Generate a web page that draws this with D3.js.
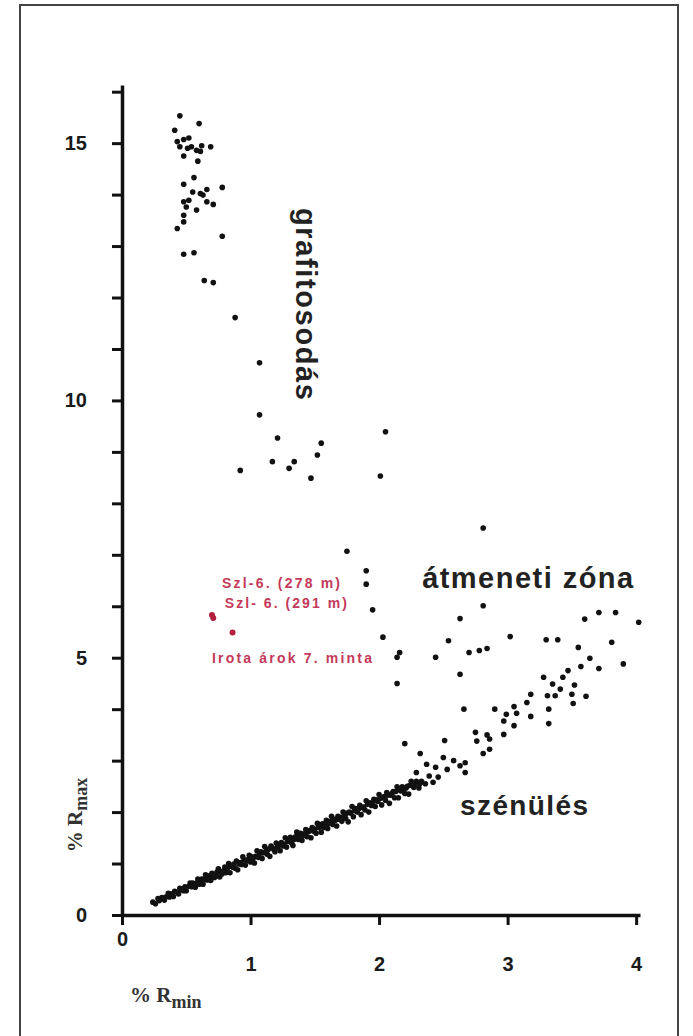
<!DOCTYPE html>
<html>
<head>
<meta charset="utf-8">
<script src="https://cdn.jsdelivr.net/npm/d3@7"></script>
<style>
  body { margin: 0; background: #fff; }
  svg { display: block; }
</style>
</head>
<body>
<div id="chart"></div>
<script>
// Tick values
const xTickValues = [0, 1, 2, 3, 4];
const yTickValues = [0, 1, 2, 3, 4, 5, 6, 7, 8, 9, 10, 11, 12, 13, 14, 15, 16];
const yTickLabels = [0, 5, 10, 15];

// Graphitization cluster (% Rmin, % Rmax)
const graphitePoints = [
  [0.45, 15.53], [0.60, 15.38], [0.41, 15.25], [0.43, 15.03], [0.48, 15.07],
  [0.45, 14.93], [0.54, 14.93], [0.58, 14.86], [0.61, 14.84], [0.69, 14.93],
  [0.48, 14.75], [0.51, 14.90], [0.59, 14.65], [0.56, 14.33], [0.48, 14.20],
  [0.78, 14.14], [0.55, 14.05], [0.61, 14.02], [0.63, 13.99], [0.52, 13.89],
  [0.48, 13.86], [0.66, 13.86], [0.71, 13.81], [0.50, 13.76], [0.58, 13.70],
  [0.48, 13.60], [0.48, 13.47], [0.43, 13.34], [0.78, 13.19], [0.48, 12.84],
  [0.56, 12.87], [0.64, 12.33], [0.71, 12.29], [0.88, 11.61], [1.07, 10.73],
  [1.07, 9.72], [1.21, 9.27], [1.55, 9.17], [1.52, 8.94], [1.17, 8.81],
  [1.34, 8.81], [1.30, 8.68], [0.92, 8.64], [1.47, 8.49], [2.05, 9.39],
  [2.01, 8.53], [0.62, 14.95], [0.52, 15.10], [0.66, 14.10]
];

// Transition zone and upper coalification points
const transitionPoints = [
  [2.81, 7.52], [1.75, 7.07], [1.90, 6.69], [1.90, 6.43], [1.95, 5.93],
  [2.03, 5.40], [2.16, 5.10], [2.14, 5.01], [2.81, 6.01], [2.63, 5.76],
  [3.60, 5.75], [3.71, 5.88], [3.84, 5.88], [4.02, 5.69], [2.54, 5.33],
  [3.02, 5.41], [3.30, 5.35], [3.39, 5.35], [3.55, 5.20], [3.81, 5.30],
  [2.44, 5.01], [2.70, 5.10], [2.78, 5.14], [2.84, 5.18], [3.64, 4.99],
  [3.57, 4.83], [3.71, 4.79], [3.90, 4.88], [2.14, 4.50], [2.63, 4.68],
  [3.47, 4.75], [3.28, 4.62], [3.43, 4.62], [3.35, 4.49], [3.52, 4.47],
  [3.41, 4.39], [3.18, 4.29], [3.31, 4.26], [3.37, 4.26], [3.50, 4.29],
  [3.61, 4.25], [3.51, 4.11], [3.15, 4.13], [2.66, 4.00], [2.90, 4.00],
  [3.05, 4.05], [2.99, 3.90], [3.07, 3.92], [3.32, 4.00], [2.97, 3.77],
  [3.18, 3.86], [3.05, 3.68], [3.32, 3.72], [2.75, 3.55], [2.84, 3.50],
  [2.97, 3.51], [2.76, 3.38], [2.86, 3.42], [2.81, 3.14], [2.86, 3.22],
  [2.20, 3.33], [2.51, 3.39], [2.32, 3.14], [2.50, 3.06], [2.58, 3.00],
  [2.67, 2.96], [2.37, 2.93], [2.44, 2.87], [2.53, 2.83], [2.63, 2.90],
  [2.67, 2.77], [2.29, 2.77]
];

// Main coalification band
const coalPoints = [
  [0.24, 0.25], [0.26, 0.22], [0.28, 0.32], [0.29, 0.28], [0.31, 0.34],
  [0.33, 0.29], [0.34, 0.35], [0.36, 0.42], [0.37, 0.35], [0.38, 0.41],
  [0.40, 0.36], [0.41, 0.46], [0.43, 0.44], [0.44, 0.41], [0.45, 0.52],
  [0.46, 0.49], [0.48, 0.47], [0.49, 0.55], [0.50, 0.47], [0.52, 0.56],
  [0.53, 0.62], [0.54, 0.55], [0.55, 0.62], [0.57, 0.54], [0.58, 0.62],
  [0.59, 0.70], [0.60, 0.60], [0.62, 0.70], [0.63, 0.60], [0.64, 0.70],
  [0.65, 0.78], [0.66, 0.68], [0.68, 0.76], [0.69, 0.67], [0.70, 0.81],
  [0.71, 0.76], [0.72, 0.73], [0.74, 0.84], [0.75, 0.90], [0.76, 0.74],
  [0.77, 0.84], [0.78, 0.80], [0.80, 0.93], [0.81, 0.82], [0.82, 0.91],
  [0.83, 1.00], [0.84, 0.82], [0.86, 0.93], [0.87, 0.99], [0.88, 0.91],
  [0.89, 1.05], [0.90, 0.88], [0.92, 1.02], [0.93, 0.98], [0.94, 1.13],
  [0.95, 1.07], [0.96, 0.97], [0.98, 1.08], [0.99, 1.16], [1.00, 1.03],
  [1.01, 1.13], [1.03, 1.01], [1.04, 1.14], [1.05, 1.25], [1.06, 1.12],
  [1.08, 1.23], [1.09, 1.10], [1.10, 1.21], [1.11, 1.33], [1.13, 1.18],
  [1.14, 1.28], [1.15, 1.14], [1.16, 1.34], [1.18, 1.28], [1.19, 1.23],
  [1.20, 1.40], [1.22, 1.36], [1.23, 1.25], [1.24, 1.41], [1.25, 1.34],
  [1.27, 1.50], [1.28, 1.32], [1.29, 1.43], [1.31, 1.51], [1.32, 1.40],
  [1.33, 1.35], [1.35, 1.52], [1.36, 1.61], [1.37, 1.47], [1.39, 1.59],
  [1.40, 1.45], [1.41, 1.55], [1.43, 1.66], [1.44, 1.52], [1.45, 1.62],
  [1.47, 1.50], [1.48, 1.70], [1.49, 1.63], [1.51, 1.59], [1.52, 1.78],
  [1.53, 1.70], [1.55, 1.61], [1.56, 1.77], [1.57, 1.70], [1.59, 1.84],
  [1.60, 1.68], [1.61, 1.78], [1.63, 1.92], [1.64, 1.76], [1.65, 1.86],
  [1.67, 1.73], [1.68, 1.92], [1.69, 1.86], [1.71, 1.82], [1.72, 2.00],
  [1.74, 1.88], [1.75, 1.98], [1.76, 1.81], [1.78, 1.98], [1.79, 2.11],
  [1.80, 1.91], [1.82, 2.07], [1.83, 2.00], [1.85, 2.13], [1.86, 1.95],
  [1.87, 2.09], [1.89, 2.04], [1.90, 2.22], [1.92, 2.00], [1.93, 2.18],
  [1.94, 2.13], [1.96, 2.25], [1.97, 2.11], [1.99, 2.21], [2.00, 2.34],
  [2.02, 2.14], [2.03, 2.28], [2.05, 2.23], [2.06, 2.38], [2.08, 2.17],
  [2.09, 2.33], [2.11, 2.40], [2.12, 2.28], [2.14, 2.49], [2.15, 2.28],
  [2.17, 2.41], [2.18, 2.49], [2.20, 2.36], [2.22, 2.50], [2.23, 2.35],
  [2.25, 2.60], [2.27, 2.48], [2.29, 2.60], [2.31, 2.47], [2.33, 2.60],
  [2.36, 2.55], [2.39, 2.70], [2.42, 2.58], [2.46, 2.68],
  [0.47, 0.50], [0.56, 0.58], [0.61, 0.66], [0.67, 0.73], [0.73, 0.79],
  [0.79, 0.86], [0.85, 0.95], [0.91, 0.99], [0.97, 1.06], [1.02, 1.10],
  [1.07, 1.19], [1.12, 1.24], [1.17, 1.30], [1.21, 1.32], [1.26, 1.38],
  [1.30, 1.46], [1.34, 1.47], [1.38, 1.54], [1.42, 1.58], [1.46, 1.64],
  [1.50, 1.67], [1.54, 1.72], [1.58, 1.75], [1.62, 1.82], [1.66, 1.84],
  [1.70, 1.90], [1.73, 1.93], [1.77, 2.00], [1.81, 2.03], [1.84, 2.06],
  [1.88, 2.10], [1.91, 2.15], [1.95, 2.17], [1.98, 2.24], [2.01, 2.27],
  [2.04, 2.30], [2.07, 2.33], [2.10, 2.36], [2.13, 2.40], [2.16, 2.44],
  [2.19, 2.42], [2.21, 2.47], [2.24, 2.52], [2.28, 2.53], [2.32, 2.56]
];

// Highlighted samples (red)
const redPoints = [[0.70, 5.83], [0.71, 5.77], [0.86, 5.49]];
const redLabels = ['Szl-6. (278 m)', 'Szl- 6. (291 m)', 'Irota árok 7. minta'];

// Set up svg area
const width = 693;
const height = 1036;

const svg = d3
  .select('#chart')
  .append('svg')
  .attr('width', width)
  .attr('height', height);

// Frame around the figure (open at the bottom)
svg
  .append('path')
  .attr('d', 'M20,1040 V5 H678 V1040')
  .attr('fill', 'none')
  .attr('stroke', '#444')
  .attr('stroke-width', 2);

// Scales
const x = d3.scaleLinear().domain([0, 4.03]).range([122, 640]);
const y = d3.scaleLinear().domain([0, 16.13]).range([915, 85]);

// Axes
const yAxis = d3
  .axisLeft(y)
  .tickValues(yTickValues)
  .tickSizeInner(10)
  .tickSizeOuter(0)
  .tickPadding(25)
  .tickFormat((d) => (yTickLabels.includes(d) ? d : ''));

const xAxis = d3
  .axisBottom(x)
  .tickValues(xTickValues)
  .tickSizeInner(10)
  .tickSizeOuter(0)
  .tickPadding(32)
  .tickFormat(d3.format('d'));

const gy = svg.append('g').attr('transform', 'translate(' + x(0) + ',0)').call(yAxis);
const gx = svg.append('g').attr('transform', 'translate(0,' + y(0) + ')').call(xAxis);

[gx, gy].forEach((g) => {
  g.select('.domain').attr('stroke', '#111').attr('stroke-width', 3.5);
  g.selectAll('.tick line').attr('stroke', '#111').attr('stroke-width', 3);
  g.selectAll('.tick text')
    .attr('fill', '#1a1a1a')
    .style('font-family', 'Liberation Sans, Arial, sans-serif')
    .style('font-weight', 'bold')
    .style('font-size', '20px');
});

// the zero on the x axis sits higher than the others
gx.selectAll('.tick text').filter((d) => d === 0).attr('y', 17);

// Axis titles
const yTitle = svg
  .append('text')
  .attr('transform', 'translate(82,' + 815 + ') rotate(-90)')
  .attr('text-anchor', 'middle')
  .style('font-family', 'Liberation Serif, Times New Roman, serif')
  .style('font-weight', 'bold')
  .style('font-size', '21px')
  .attr('fill', '#333');
yTitle.append('tspan').text('% R');
yTitle.append('tspan').attr('dy', 5).style('font-size', '18px').text('max');

const xTitle = svg
  .append('text')
  .attr('x', 130)
  .attr('y', 1002)
  .style('font-family', 'Liberation Serif, Times New Roman, serif')
  .style('font-weight', 'bold')
  .style('font-size', '21px')
  .attr('fill', '#333');
xTitle.append('tspan').text('% R');
xTitle.append('tspan').attr('dy', 6).style('font-size', '18px').text('min');

// Draw points
const allBlack = graphitePoints.concat(transitionPoints, coalPoints);
svg
  .selectAll('.pt')
  .data(allBlack)
  .enter()
  .append('circle')
  .attr('class', 'pt')
  .attr('cx', (d) => x(d[0]))
  .attr('cy', (d) => y(d[1]))
  .attr('r', 2.8)
  .style('fill', '#111');

svg
  .selectAll('.red-pt')
  .data(redPoints)
  .enter()
  .append('circle')
  .attr('class', 'red-pt')
  .attr('cx', (d) => x(d[0]))
  .attr('cy', (d) => y(d[1]))
  .attr('r', 3)
  .style('fill', '#b3203f');

// Zone labels
const zoneFont = 'Liberation Sans, Arial, sans-serif';

svg
  .append('text')
  .attr('transform', 'translate(' + x(1.355) + ',' + y(13.74) + ') rotate(90)')
  .attr('textLength', 192)
  .attr('lengthAdjust', 'spacing')
  .style('font-family', zoneFont)
  .style('font-weight', 'bold')
  .style('font-size', '29px')
  .attr('fill', '#222')
  .text('grafitosodás');

svg
  .append('text')
  .attr('x', x(2.335))
  .attr('y', y(6.35))
  .attr('textLength', 211)
  .attr('lengthAdjust', 'spacing')
  .style('font-family', zoneFont)
  .style('font-weight', 'bold')
  .style('font-size', '29px')
  .attr('fill', '#222')
  .text('átmeneti zóna');

svg
  .append('text')
  .attr('x', x(2.63))
  .attr('y', y(1.94))
  .attr('textLength', 128)
  .attr('lengthAdjust', 'spacing')
  .style('font-family', zoneFont)
  .style('font-weight', 'bold')
  .style('font-size', '28px')
  .attr('fill', '#222')
  .text('szénülés');

// Red sample labels
const redPos = [[0.778, 6.35, 118], [0.80, 5.96, 122], [0.70, 4.9, 160]];
redLabels.forEach((t, i) => {
  svg
    .append('text')
    .attr('x', x(redPos[i][0]))
    .attr('y', y(redPos[i][1]))
    .attr('textLength', redPos[i][2])
    .attr('lengthAdjust', 'spacing')
    .style('font-family', zoneFont)
    .style('font-weight', 'bold')
    .style('font-size', '14px')
    .attr('fill', '#c43a5a')
    .text(t);
});
</script>
</body>
</html>
